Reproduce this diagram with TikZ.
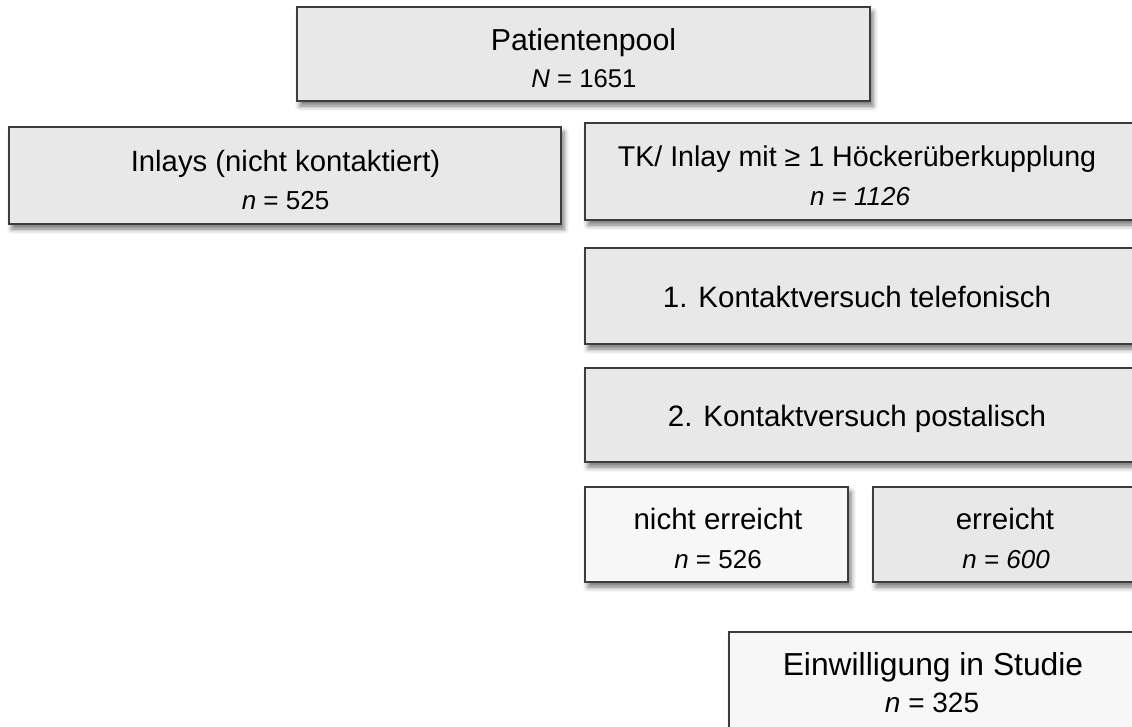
\documentclass[tikz,border=0pt]{standalone}
\usepackage{fontspec}
\setmainfont{Liberation Sans}
\usepackage{xcolor}
\usetikzlibrary{shadows.blur}
\definecolor{boxgray}{HTML}{E8E8E8}
\definecolor{boxlight}{HTML}{F7F7F7}
\definecolor{boxline}{HTML}{3C3C3C}

\begin{document}
\begin{tikzpicture}[x=1pt, y=-1pt,
    box/.style={rectangle, draw=boxline, line width=1.4pt, fill=boxgray, inner sep=0pt,
        blur shadow={shadow xshift=3pt, shadow yshift=-5pt, shadow blur radius=5pt, shadow opacity=55}},
    lightbox/.style={box, fill=boxlight},
    bigtext/.style={inner sep=0pt, anchor=base, font=\fontsize{29.5}{35}\selectfont},
    smalltext/.style={inner sep=0pt, anchor=base, font=\fontsize{26}{31}\selectfont}]
    \useasboundingbox (0,0) rectangle (1132,726);
    \clip (0,0) rectangle (1132,726);

    % Kästen
    \node[box, minimum width=573, minimum height=94] (pool) at (583.5,54) {};
    \node[box, minimum width=552, minimum height=97] (inlay) at (285,175.5) {};
    \node[box, minimum width=551, minimum height=97] (tk) at (860.5,171.5) {};
    \node[box, minimum width=551, minimum height=96] (tel) at (860.5,296) {};
    \node[box, minimum width=551, minimum height=94] (post) at (860.5,415) {};
    \node[lightbox, minimum width=263, minimum height=95] (nicht) at (716.5,534.5) {};
    \node[box, minimum width=264, minimum height=95] (erreicht) at (1005,534.5) {};
    \node[lightbox, minimum width=408, minimum height=108] (einw) at (933,686) {};

    % Texte
    \node[bigtext, font=\fontsize{30.3}{36}\selectfont] (pool-a) at (583.5,50) {Patientenpool};
    \node[smalltext, font=\fontsize{25.7}{31}\selectfont] (pool-b) at (584,87) {\textit{N} = 1651};

    \node[bigtext, font=\fontsize{29.3}{35}\selectfont] (inlay-a) at (285.5,171) {Inlays (nicht kontaktiert)};
    \node[smalltext] (inlay-b) at (285.5,209.5) {\textit{n} = 525};

    \node[bigtext, font=\fontsize{28.6}{34}\selectfont] (tk-a) at (857,166.5) {TK/ Inlay mit ≥ 1 Höckerüberkupplung};
    \node[smalltext] (tk-b) at (860,205) {\itshape n = 1126};

    \node[bigtext] (tel-a) at (857,307) {1. Kontaktversuch telefonisch};
    \node[bigtext] (post-a) at (857,426) {2. Kontaktversuch postalisch};

    \node[bigtext] (nicht-a) at (718,529.5) {nicht erreicht};
    \node[smalltext] (nicht-b) at (718,568) {\textit{n} = 526};

    \node[bigtext] (erreicht-a) at (1005,529.5) {erreicht};
    \node[smalltext] (erreicht-b) at (1006,568) {\itshape n = 600};

    \node[bigtext, font=\fontsize{31.8}{38}\selectfont] (einw-a) at (933,675) {Einwilligung in Studie};
    \node[smalltext, font=\fontsize{28}{33}\selectfont] (einw-b) at (932,712) {\textit{n} = 325};
\end{tikzpicture}
\end{document}
